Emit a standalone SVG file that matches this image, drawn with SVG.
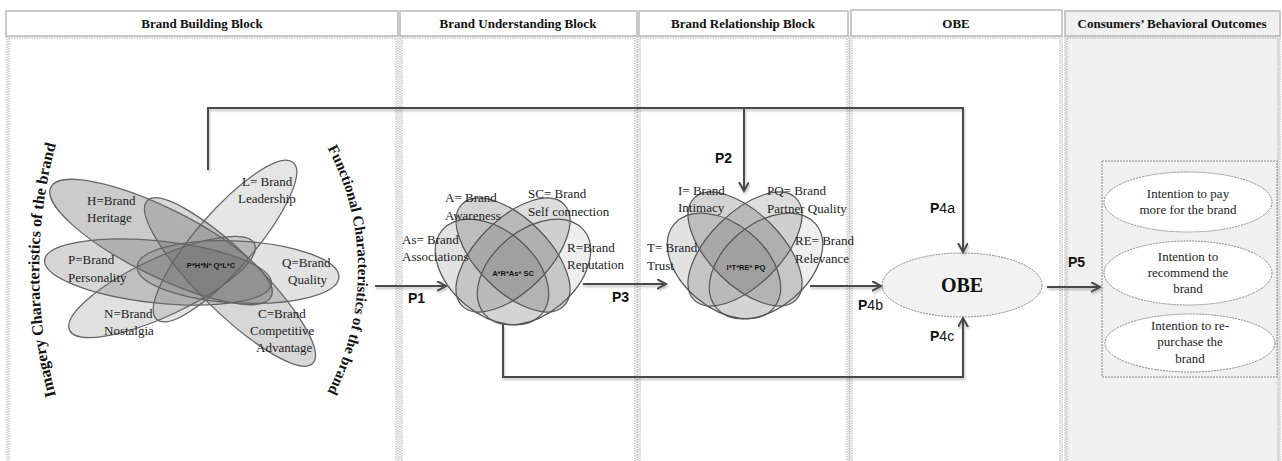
<svg xmlns="http://www.w3.org/2000/svg" width="1282" height="461" viewBox="0 0 1282 461">
<defs>
<style>
.hdr{font-family:"Liberation Serif",serif;font-weight:bold;font-size:13px;text-anchor:middle;fill:#111}
.hbox{fill:#fff;stroke:#b8b8b8;stroke-width:1.5}
.col{fill:none;stroke:#aaa;stroke-width:1;stroke-dasharray:1.5 1}
.lbl{font-family:"Liberation Serif",serif;font-size:13px;fill:#222}
.arc{font-family:"Liberation Serif",serif;font-weight:bold;fill:#111}
.pl{font-family:"Liberation Sans",sans-serif;font-weight:bold;font-size:14px;fill:#111}
.pn{font-weight:normal}
.cen{font-family:"Liberation Sans",sans-serif;font-weight:bold;font-size:7.5px;text-anchor:middle;fill:#111}
.conn{fill:none;stroke:#4a4a4a;stroke-width:2}
.el{stroke:#666;stroke-width:1.3}
.ve{fill:#555;stroke:#555;stroke-width:1.2}
.out{fill:#fff;stroke:#888;stroke-width:1;stroke-dasharray:2 1}
.otx{font-family:"Liberation Serif",serif;font-size:13px;text-anchor:middle;fill:#222}
</style>
<marker id="arr" markerUnits="userSpaceOnUse" markerWidth="12" markerHeight="12" refX="9" refY="5" orient="auto">
<path d="M0,0 L9,5 L0,10" fill="none" stroke="#4a4a4a" stroke-width="2"/>
</marker>
<filter id="sh" x="-5%" y="-5%" width="110%" height="120%">
<feDropShadow dx="1" dy="2" stdDeviation="1.2" flood-color="#000" flood-opacity="0.25"/>
</filter>
<path id="arcL" d="M60 410 A481 481 0 0 1 60 130"/>
<path id="arcR" d="M323 140 A259 259 0 0 1 323 400"/>
</defs>

<rect x="0" y="0" width="1282" height="461" fill="#fff"/>

<!-- columns -->
<g id="columns">
<rect x="1065" y="36" width="215" height="430" fill="#f0f0f0"/>
<rect class="col" x="7" y="36" width="391" height="430"/>
<rect class="col" x="9" y="38" width="387" height="430"/>
<rect class="col" x="400" y="36" width="237" height="430"/>
<rect class="col" x="402" y="38" width="233" height="430"/>
<rect class="col" x="638" y="36" width="211" height="430"/>
<rect class="col" x="640" y="38" width="207" height="430"/>
<rect class="col" x="850" y="36" width="212" height="430"/>
<rect class="col" x="852" y="38" width="208" height="430"/>
<rect class="col" x="1065" y="36" width="215" height="430"/>
<rect class="col" x="1067" y="38" width="211" height="430"/>
</g>

<!-- headers -->
<g id="headers">
<rect class="hbox" x="6" y="11" width="392" height="25"/>
<text class="hdr" x="202" y="28">Brand Building Block</text>
<rect class="hbox" x="400" y="11" width="237" height="25"/>
<text class="hdr" x="518" y="28">Brand Understanding Block</text>
<rect class="hbox" x="639" y="11" width="209" height="25"/>
<text class="hdr" x="743" y="28">Brand Relationship Block</text>
<rect class="hbox" x="851" y="10" width="211" height="26"/>
<text class="hdr" x="956" y="28">OBE</text>
<rect class="hbox" x="1065" y="11" width="215" height="25" style="fill:#f0f0f0"/>
<text class="hdr" x="1172" y="28">Consumers’ Behavioral Outcomes</text>
</g>

<!-- brand building block -->
<g id="brand-building">
<ellipse class="el" cx="161" cy="242" rx="123" ry="34" transform="rotate(26.4 161 242)" fill="rgba(102,102,102,0.34)"/>
<ellipse class="el" cx="158" cy="272" rx="114" ry="31" transform="rotate(6 158 272)" fill="rgba(102,102,102,0.27)"/>
<ellipse class="el" cx="162" cy="287" rx="102" ry="29" transform="rotate(-25 162 287)" fill="rgba(102,102,102,0.2)"/>
<ellipse class="el" cx="225" cy="241" rx="104" ry="29" transform="rotate(-49 225 241)" fill="rgba(102,102,102,0.17)"/>
<ellipse class="el" cx="238" cy="272" rx="101" ry="31" transform="rotate(3 238 272)" fill="rgba(102,102,102,0.19)"/>
<ellipse class="el" cx="230" cy="282" rx="116" ry="30" transform="rotate(44.5 230 282)" fill="rgba(102,102,102,0.26)"/>
<text class="lbl" x="87" y="205">H=Brand</text>
<text class="lbl" x="87" y="222">Heritage</text>
<text class="lbl" x="242" y="186">L= Brand</text>
<text class="lbl" x="238" y="203">Leadership</text>
<text class="lbl" x="68" y="264">P=Brand</text>
<text class="lbl" x="68" y="282">Personality</text>
<text class="lbl" x="282" y="267">Q=Brand</text>
<text class="lbl" x="288" y="284">Quality</text>
<text class="lbl" x="104" y="318">N=Brand</text>
<text class="lbl" x="104" y="335">Nostalgia</text>
<text class="lbl" x="258" y="318">C=Brand</text>
<text class="lbl" x="250" y="335">Competitive</text>
<text class="lbl" x="256" y="352">Advantage</text>
<text class="cen" x="211" y="268">P*H*N* Q*L*C</text>
<text class="arc" font-size="16"><textPath href="#arcL" startOffset="50%" text-anchor="middle">Imagery Characteristics of the brand</textPath></text>
<text class="arc" font-size="15"><textPath href="#arcR" startOffset="50%" text-anchor="middle">Functional Characteristics of the brand</textPath></text>
</g>

<!-- brand understanding venn -->
<g id="brand-understanding">
<ellipse class="ve" cx="492" cy="272" rx="65" ry="42" transform="rotate(40 492 272)" fill-opacity="0.17"/>
<ellipse class="ve" cx="534" cy="272" rx="65" ry="42" transform="rotate(-40 534 272)" fill-opacity="0.1"/>
<ellipse class="ve" cx="513" cy="255" rx="72" ry="36" transform="rotate(45 513 255)" fill-opacity="0.26"/>
<ellipse class="ve" cx="513" cy="255" rx="72" ry="36" transform="rotate(-45 513 255)" fill-opacity="0.2"/>
<text class="lbl" x="445" y="202">A= Brand</text>
<text class="lbl" x="445" y="220">Awareness</text>
<text class="lbl" x="528" y="198">SC= Brand</text>
<text class="lbl" x="528" y="216">Self connection</text>
<text class="lbl" x="402" y="244">As= Brand</text>
<text class="lbl" x="402" y="261">Associations</text>
<text class="lbl" x="567" y="252">R=Brand</text>
<text class="lbl" x="567" y="269">Reputation</text>
<text class="cen" x="513" y="276">A*R*As* SC</text>
</g>

<!-- brand relationship venn -->
<g id="brand-relationship">
<g transform="translate(232 -6)">
<ellipse class="ve" cx="492" cy="272" rx="65" ry="42" transform="rotate(40 492 272)" fill-opacity="0.17"/>
<ellipse class="ve" cx="534" cy="272" rx="65" ry="42" transform="rotate(-40 534 272)" fill-opacity="0.1"/>
<ellipse class="ve" cx="513" cy="255" rx="72" ry="36" transform="rotate(45 513 255)" fill-opacity="0.26"/>
<ellipse class="ve" cx="513" cy="255" rx="72" ry="36" transform="rotate(-45 513 255)" fill-opacity="0.2"/>
</g>
<text class="lbl" x="678" y="195">I= Brand</text>
<text class="lbl" x="678" y="212">Intimacy</text>
<text class="lbl" x="767" y="195">PQ= Brand</text>
<text class="lbl" x="767" y="213">Partner Quality</text>
<text class="lbl" x="647" y="252">T= Brand</text>
<text class="lbl" x="647" y="270">Trust</text>
<text class="lbl" x="795" y="245">RE= Brand</text>
<text class="lbl" x="795" y="263">Relevance</text>
<text class="cen" x="746" y="270">I*T*RE* PQ</text>
</g>

<!-- OBE -->
<g id="obe">
<ellipse cx="962" cy="285" rx="80" ry="32" fill="#f2f2f2" stroke="#888" stroke-width="1" stroke-dasharray="2 1"/>
<text x="962" y="292" font-family="Liberation Serif, serif" font-weight="bold" font-size="20" text-anchor="middle" fill="#111">OBE</text>
</g>

<!-- outcomes -->
<g id="outcomes">
<rect x="1102" y="161" width="175" height="216" fill="none" stroke="#888" stroke-width="1" stroke-dasharray="2 1"/>
<g id="pay-more">
<ellipse class="out" cx="1188" cy="202" rx="84" ry="30"/>
<text class="otx" x="1188" y="198">Intention to pay</text>
<text class="otx" x="1188" y="214">more for the brand</text>
</g>
<g id="recommend">
<ellipse class="out" cx="1188" cy="273" rx="84" ry="32"/>
<text class="otx" x="1188" y="261">Intention to</text>
<text class="otx" x="1188" y="277">recommend the</text>
<text class="otx" x="1188" y="293">brand</text>
</g>
<g id="repurchase">
<ellipse class="out" cx="1190" cy="343" rx="85" ry="29"/>
<text class="otx" x="1190" y="330">Intention to re-</text>
<text class="otx" x="1190" y="346">purchase the</text>
<text class="otx" x="1190" y="363">brand</text>
</g>
</g>

<!-- connectors -->
<g id="connectors" filter="url(#sh)">
<path class="conn" d="M208 170 V108 H963 V252" marker-end="url(#arr)"/>
<path class="conn" d="M744 108 V191" marker-end="url(#arr)"/>
<path class="conn" d="M375 286 H446" marker-end="url(#arr)"/>
<path class="conn" d="M583 284 H666" marker-end="url(#arr)"/>
<path class="conn" d="M810 286 H881" marker-end="url(#arr)"/>
<path class="conn" d="M503 325 V377 H963 V318" marker-end="url(#arr)"/>
<path class="conn" d="M1047 287 H1100" marker-end="url(#arr)"/>
</g>
<g id="connector-labels">
<text class="pl" x="408" y="303">P1</text>
<text class="pl" x="715" y="163">P2</text>
<text class="pl" x="612" y="302">P3</text>
<text class="pl" x="930" y="213">P<tspan class="pn">4a</tspan></text>
<text class="pl" x="858" y="310">P<tspan class="pn">4b</tspan></text>
<text class="pl" x="930" y="341">P<tspan class="pn">4c</tspan></text>
<text class="pl" x="1068" y="267">P5</text>
</g>
</svg>
